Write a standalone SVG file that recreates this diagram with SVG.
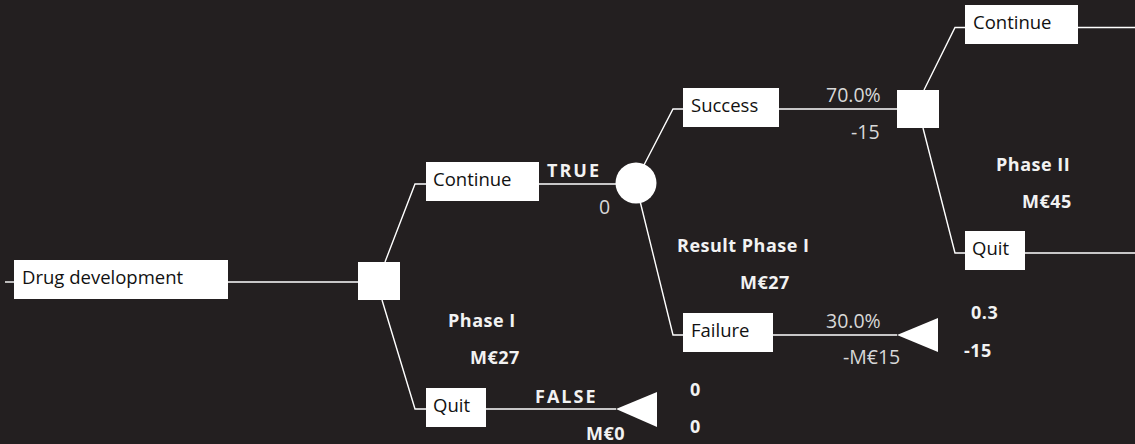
<svg xmlns="http://www.w3.org/2000/svg" width="1135" height="444" viewBox="0 0 1135 444">
<style>
.bg{fill:#231f20}
.box{fill:#ffffff}
.lbl{font-family:"Open Sans","Liberation Sans",sans-serif;font-size:18.5px;fill:#111111}
.num{font-family:"Open Sans","Liberation Sans",sans-serif;font-size:19.5px;fill:#d8d8d8}
.bold{font-family:"Open Sans","Liberation Sans",sans-serif;font-size:18px;font-weight:bold;fill:#f2f2f2;letter-spacing:0.5px}
.tf{letter-spacing:2px}
.ln{fill:none;stroke:#ffffff;stroke-width:1.4}
.shape{fill:#ffffff}
</style>
<rect class="bg" x="0" y="0" width="1135" height="444"/>
<g id="connectors">
<polyline class="ln" points="5,282 14,282"/>
<polyline class="ln" points="228,282 358,282"/>
<polyline class="ln" points="385,262 415,184 426,184"/>
<polyline class="ln" points="382,300 415,409 426,409"/>
<polyline class="ln" points="539,184 620,184"/>
<polyline class="ln" points="486,409 616,409"/>
<polyline class="ln" points="644,165 673,109 683,109"/>
<polyline class="ln" points="640,201 673,335 683,335"/>
<polyline class="ln" points="779,109 897,109"/>
<polyline class="ln" points="773,335 897,335"/>
<polyline class="ln" points="924,90 955,27.5 965,27.5"/>
<polyline class="ln" points="923,128 955,253 965,253"/>
<polyline class="ln" points="1078,27.5 1135,27.5"/>
<polyline class="ln" points="1025,253 1135,253"/>
</g>
<g id="drug-development">
<rect class="box" x="14" y="260" width="214" height="39"/>
<text class="lbl" x="22" y="284">Drug development</text>
</g>
<g id="decision-phase1">
<rect class="shape" x="358" y="262" width="42" height="38"/>
<text class="bold" x="448" y="327">Phase I</text>
<text class="bold" x="470" y="364">M€27</text>
</g>
<g id="continue-1">
<rect class="box" x="426" y="162" width="113" height="39"/>
<text class="lbl" x="433" y="186">Continue</text>
<text class="bold tf" x="547" y="177">TRUE</text>
<text class="num" x="599" y="214">0</text>
</g>
<g id="quit-1">
<rect class="box" x="426" y="388" width="60" height="39"/>
<text class="lbl" x="433" y="412">Quit</text>
<text class="bold tf" x="535" y="403">FALSE</text>
<text class="bold" x="586" y="440">M€0</text>
</g>
<g id="chance-result">
<circle class="shape" cx="636" cy="183" r="20.5"/>
<text class="bold" x="677" y="252">Result Phase I</text>
<text class="bold" x="740" y="289">M€27</text>
</g>
<g id="end-quit">
<polygon class="shape" points="616,409 657,392 657,427"/>
<text class="bold" x="690" y="396">0</text>
<text class="bold" x="690" y="433">0</text>
</g>
<g id="success">
<rect class="box" x="683" y="88" width="96" height="39"/>
<text class="lbl" x="691" y="112">Success</text>
<text class="num" x="826" y="102">70.0%</text>
<text class="num" x="851" y="139">-15</text>
</g>
<g id="failure">
<rect class="box" x="683" y="313" width="90" height="39"/>
<text class="lbl" x="691" y="337">Failure</text>
<text class="num" x="826" y="328">30.0%</text>
<text class="num" x="843" y="364">-M€15</text>
</g>
<g id="end-failure">
<polygon class="shape" points="897,335 938,318 938,352"/>
<text class="bold" x="971" y="319">0.3</text>
<text class="bold" x="964" y="357">-15</text>
</g>
<g id="decision-phase2">
<rect class="shape" x="897" y="90" width="42" height="38"/>
<text class="bold" x="996" y="171">Phase II</text>
<text class="bold" x="1022" y="208">M€45</text>
</g>
<g id="continue-2">
<rect class="box" x="965" y="5" width="113" height="39"/>
<text class="lbl" x="973" y="29">Continue</text>
</g>
<g id="quit-2">
<rect class="box" x="965" y="231" width="60" height="39"/>
<text class="lbl" x="972" y="255">Quit</text>
</g>
</svg>
